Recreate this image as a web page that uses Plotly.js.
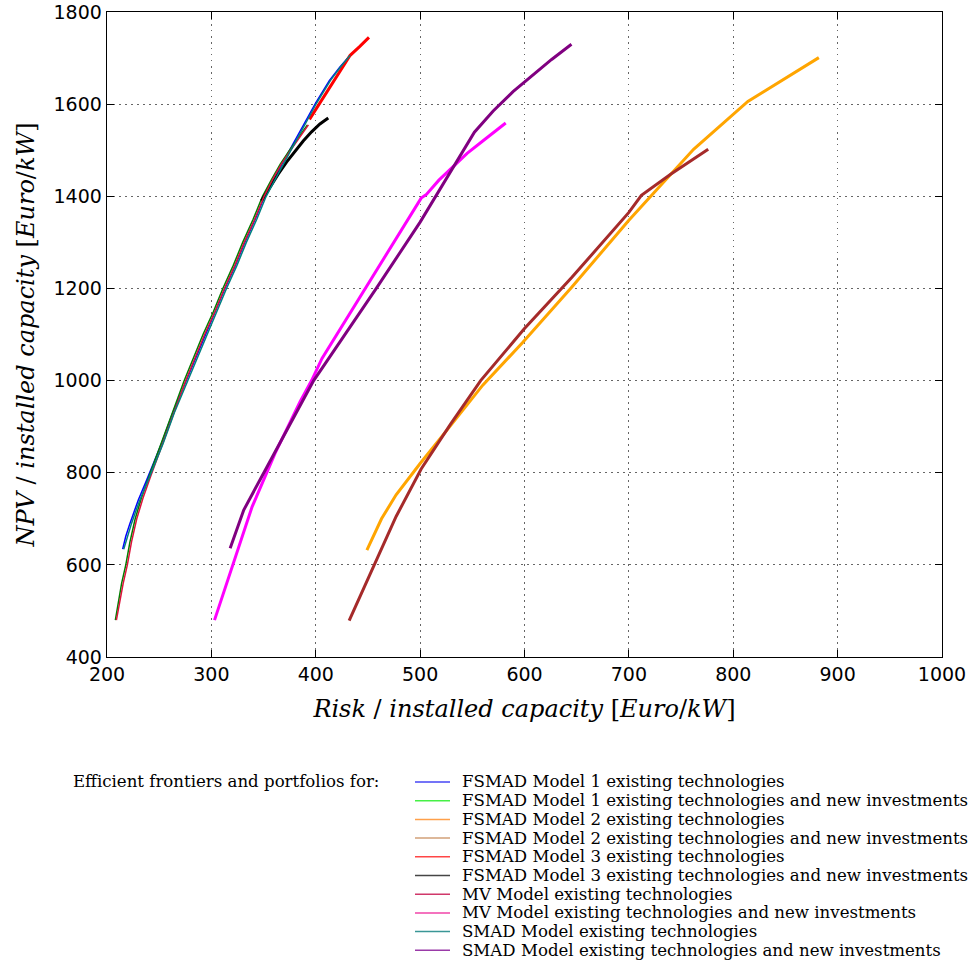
<!DOCTYPE html>
<html>
<head>
<meta charset="utf-8">
<script src="https://cdn.plot.ly/plotly-3.0.1.min.js"></script>
<style>html,body{margin:0;padding:0;background:#fff;}</style>
</head>
<body>
<div id="chart" style="width:976px;height:961px;"></div>
<script>
// ---- Data ----
const seriesNames = [
  "FSMAD Model 1 existing technologies",
  "FSMAD Model 1 existing technologies and new investments",
  "FSMAD Model 2 existing technologies",
  "FSMAD Model 2 existing technologies and new investments",
  "FSMAD Model 3 existing technologies",
  "FSMAD Model 3 existing technologies and new investments",
  "MV Model existing technologies",
  "MV Model existing technologies and new investments",
  "SMAD Model existing technologies",
  "SMAD Model existing technologies and new investments"
];

const fsmad1ExistRisk = [215, 218, 222, 226, 230, 238, 245, 252, 263, 276, 285, 294, 304, 313, 323, 332, 342, 351, 364, 376, 388, 400, 413, 423, 433];
const fsmad1ExistNpv  = [634, 662, 690, 716, 741, 784, 822, 862, 930, 1000, 1050, 1100, 1150, 1200, 1250, 1300, 1350, 1400, 1455, 1505, 1555, 1603, 1651, 1680, 1706];

const fsmad1NewRisk = [208, 211, 214, 218, 222, 227, 233, 240, 248, 256, 265, 274, 283, 292, 302, 311, 321, 330, 340, 349, 358, 366, 374, 381, 387, 392];
const fsmad1NewNpv  = [480, 520, 560, 600, 650, 700, 745, 790, 840, 890, 945, 1000, 1050, 1100, 1150, 1200, 1250, 1300, 1350, 1400, 1438, 1470, 1497, 1520, 1540, 1555];

const fsmad2ExistRisk = [449, 463, 477, 500, 528, 560, 598, 645, 700, 762, 814, 882];
const fsmad2ExistNpv  = [632, 700, 752, 820, 899, 990, 1082, 1202, 1348, 1502, 1606, 1701];

const fsmad2NewRisk = [432, 454, 477, 501, 529, 558, 600, 645, 700, 712, 740, 776];
const fsmad2NewNpv  = [479, 590, 705, 808, 905, 1000, 1113, 1223, 1365, 1402, 1448, 1502];

const fsmad3ExistRisk = [394, 400, 407, 414, 420, 427, 433, 442, 451];
const fsmad3ExistNpv  = [1567, 1588, 1612, 1637, 1660, 1684, 1706, 1725, 1745];

const fsmad3NewRisk = [348, 356, 364, 372, 380, 388, 396, 404, 412];
const fsmad3NewNpv  = [1390, 1420, 1448, 1474, 1498, 1520, 1540, 1557, 1570];

const mvExistRisk = [209, 212, 215.5, 219.5, 223.5, 228.5, 234.5, 241.5, 249.5, 257.5, 266.5, 275.5, 284.5, 293.5, 303.5, 312.5, 322.5, 331.5, 341.5, 350.5, 359, 367, 375, 382, 388, 393];
const mvExistNpv  = [480, 520, 560, 600, 650, 700, 745, 790, 840, 890, 945, 1000, 1050, 1100, 1150, 1200, 1250, 1300, 1350, 1400, 1438, 1470, 1497, 1520, 1540, 1555];

const mvNewRisk = [303, 339, 361, 372, 385, 396, 406, 501, 506, 518, 531, 545, 560, 571, 582];
const mvNewNpv  = [480, 726, 842, 893, 954, 1000, 1048, 1396, 1404, 1435, 1464, 1493, 1520, 1540, 1559];

const smadExistRisk = [216, 219.5, 223.5, 227.5, 231.5, 239.5, 246.5, 253.5, 264.5, 277.5, 286.5, 295.5, 305.5, 314.5, 324.5, 333.5, 343.5, 352.5, 365.5, 377.5, 389, 401, 414, 423.5, 433];
const smadExistNpv  = [634, 662, 690, 716, 741, 784, 822, 862, 930, 1000, 1050, 1100, 1150, 1200, 1250, 1300, 1350, 1400, 1455, 1505, 1555, 1603, 1651, 1680, 1706];

const smadNewRisk = [318, 331, 350, 374, 398, 458, 500, 552, 570, 589, 608, 626, 645];
const smadNewNpv  = [636, 719, 799, 900, 1000, 1200, 1344, 1539, 1585, 1627, 1664, 1697, 1730];

const xTicks = [200, 300, 400, 500, 600, 700, 800, 900, 1000];
const yTicks = [400, 600, 800, 1000, 1200, 1400, 1600, 1800];

const legendTitle = "Efficient frontiers and portfolios for:";

// ---- Styles ----
const lineColors = ["#0000ff", "#008000", "#ffa500", "#a52a2a", "#ff0000", "#000000", "#dc143c", "#ff00ff", "#008080", "#800080"];
const legendColors = ["#4646f5", "#46f046", "#ffa04a", "#d2a078", "#ff4646", "#464646", "#d0386a", "#f044a8", "#3a9696", "#9a3aa8"];
const lineWidths = [1.5, 1.5, 3, 3, 3, 3, 1.5, 3, 1.5, 3];

const risks = [fsmad1ExistRisk, fsmad1NewRisk, fsmad2ExistRisk, fsmad2NewRisk, fsmad3ExistRisk, fsmad3NewRisk, mvExistRisk, mvNewRisk, smadExistRisk, smadNewRisk];
const npvs  = [fsmad1ExistNpv, fsmad1NewNpv, fsmad2ExistNpv, fsmad2NewNpv, fsmad3ExistNpv, fsmad3NewNpv, mvExistNpv, mvNewNpv, smadExistNpv, smadNewNpv];

const traces = seriesNames.map((name, i) => ({
  type: "scatter",
  mode: "lines",
  name: name,
  x: risks[i],
  y: npvs[i],
  line: {color: lineColors[i], width: lineWidths[i]},
  showlegend: false,
  hoverinfo: "x+y+name"
}));

// ---- Layout geometry (pixels) ----
const W = 976, H = 961;
const plotL = 107, plotR = 942, plotT = 12, plotB = 657;
const pw = plotR - plotL, ph = plotB - plotT;
const px2paperX = p => (p - plotL) / pw;
const px2paperY = p => (plotB - p) / ph;

const legFirstY = 782, legStep = 18.7;
const legLineX0 = 415, legLineX1 = 450, legTextX = 461, legTitleX = 72;
const serif = "DejaVu Serif, serif";

const annotations = [{
  xref: "paper", yref: "paper",
  x: px2paperX(legTitleX), y: px2paperY(legFirstY),
  xanchor: "left", yanchor: "middle", showarrow: false, borderpad: 0,
  text: legendTitle, font: {family: serif, size: 16.6, color: "#000"}
}];
const shapes = [];
seriesNames.forEach((name, i) => {
  const py = legFirstY + i * legStep;
  annotations.push({
    xref: "paper", yref: "paper",
    x: px2paperX(legTextX), y: px2paperY(py),
    xanchor: "left", yanchor: "middle", showarrow: false, borderpad: 0,
    text: name, font: {family: serif, size: 16.6, color: "#000"}
  });
  shapes.push({
    type: "line", xref: "paper", yref: "paper",
    x0: px2paperX(legLineX0), x1: px2paperX(legLineX1),
    y0: px2paperY(py), y1: px2paperY(py),
    line: {color: legendColors[i], width: 1.5}
  });
});

const axisCommon = {
  showline: true, linecolor: "#000", linewidth: 1.3, mirror: "ticks",
  ticks: "inside", ticklen: 7, tickwidth: 1, tickcolor: "#000",
  showgrid: true, gridcolor: "rgba(0,0,0,0.6)", gridwidth: 1, griddash: "1.5px,4.5px",
  zeroline: false,
  tickfont: {family: "DejaVu Sans, sans-serif", size: 19, color: "#000"}
};

const layout = {
  width: W, height: H,
  margin: {l: plotL, r: W - plotR, t: plotT, b: H - plotB, pad: 0},
  paper_bgcolor: "#fff", plot_bgcolor: "#fff",
  showlegend: false,
  xaxis: Object.assign({}, axisCommon, {
    range: [200, 1000], tickvals: xTicks, ticktext: xTicks.map(String),
    title: {text: "<i>Risk</i> / <i>installed capacity</i> [<i>Euro</i>/<i>kW</i>]",
            font: {family: serif, size: 24, color: "#000"}, standoff: 16}
  }),
  yaxis: Object.assign({}, axisCommon, {
    range: [400, 1800], tickvals: yTicks, ticktext: yTicks.map(String),
    title: {text: "<i>NPV</i> / <i>installed capacity</i> [<i>Euro</i>/<i>kW</i>]",
            font: {family: serif, size: 24, color: "#000"}, standoff: 12}
  }),
  annotations: annotations,
  shapes: shapes
};

Plotly.newPlot("chart", traces, layout, {displayModeBar: false, staticPlot: true});
</script>
</body>
</html>
